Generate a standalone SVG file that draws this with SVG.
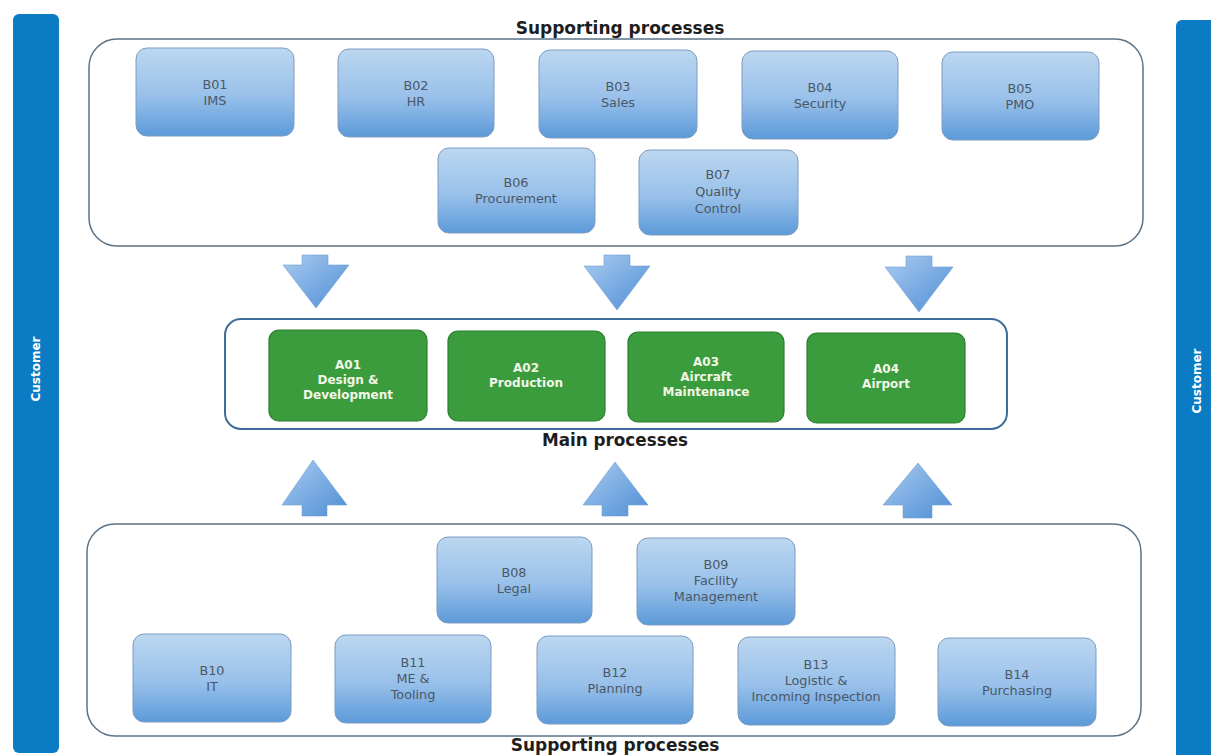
<svg xmlns="http://www.w3.org/2000/svg" width="1211" height="755" viewBox="0 0 1211 755">
<defs>
<linearGradient id="gBox" x1="0" y1="0" x2="0" y2="1">
<stop offset="0" stop-color="#bcd7f0"/>
<stop offset="0.55" stop-color="#98c0ea"/>
<stop offset="1" stop-color="#5c9ad9"/>
</linearGradient>
<linearGradient id="gArrow" x1="0" y1="0" x2="1" y2="1">
<stop offset="0" stop-color="#a9cbef"/>
<stop offset="1" stop-color="#4f8ed6"/>
</linearGradient>
<style>
.cust{fill:#0b7cc4}
.custT{font-family:"DejaVu Sans",Verdana,sans-serif;font-weight:bold;font-size:12px;fill:#ffffff;text-anchor:middle}
.cont{fill:#ffffff;stroke:#5b7388;stroke-width:1.5}
.main{fill:#ffffff;stroke:#3f6d99;stroke-width:2}
.title{font-family:"DejaVu Sans",Verdana,sans-serif;font-weight:bold;fill:#1e1e1e;text-anchor:middle}
.bb{fill:url(#gBox);stroke:#7d9cc0;stroke-width:1}
.bt{font-family:"DejaVu Sans",Verdana,sans-serif;font-size:12.8px;fill:#4a5866;text-anchor:middle}
.gb{fill:#3b9c3e;stroke:#2b7e2e;stroke-width:1.2}
.gt{font-family:"DejaVu Sans",Verdana,sans-serif;font-weight:bold;font-size:12px;fill:#f2f7e6;text-anchor:middle}
.arr{fill:url(#gArrow);stroke:#6f9fd2;stroke-width:0.6}
</style>
</defs>
<rect width="1211" height="755" fill="#ffffff"/>

<g id="customer-left">
<rect class="cust" x="13" y="14" width="46" height="739" rx="6"/>
<text class="custT" transform="translate(40,369) rotate(-90)">Customer</text>
</g>
<g id="customer-right">
<rect class="cust" x="1176" y="20" width="44" height="745" rx="6"/>
<text class="custT" transform="translate(1201,381) rotate(-90)">Customer</text>
</g>

<g id="supporting-top">
<rect class="cont" x="89" y="39" width="1054" height="207" rx="28"/>
<text class="title" x="620" y="34" font-size="17">Supporting processes</text>
</g>

<g id="main-processes">
<rect class="main" x="225" y="319" width="782" height="110" rx="16"/>
<text class="title" x="615" y="446" font-size="16.8">Main processes</text>
</g>

<g id="supporting-bottom">
<rect class="cont" x="87" y="524" width="1054" height="212" rx="28"/>
<text class="title" x="615" y="751" font-size="17">Supporting processes</text>
</g>

<g id="B01"><rect class="bb" x="136" y="48" width="158" height="88" rx="11"/><text class="bt" x="215" y="89">B01<tspan x="215" dy="16">IMS</tspan></text></g>
<g id="B02"><rect class="bb" x="338" y="49" width="156" height="88" rx="11"/><text class="bt" x="416" y="90">B02<tspan x="416" dy="16">HR</tspan></text></g>
<g id="B03"><rect class="bb" x="539" y="50" width="158" height="88" rx="11"/><text class="bt" x="618" y="91">B03<tspan x="618" dy="16">Sales</tspan></text></g>
<g id="B04"><rect class="bb" x="742" y="51" width="156" height="88" rx="11"/><text class="bt" x="820" y="92">B04<tspan x="820" dy="16">Security</tspan></text></g>
<g id="B05"><rect class="bb" x="942" y="52" width="157" height="88" rx="11"/><text class="bt" x="1020" y="93">B05<tspan x="1020" dy="16">PMO</tspan></text></g>
<g id="B06"><rect class="bb" x="438" y="148" width="157" height="85" rx="11"/><text class="bt" x="516" y="187">B06<tspan x="516" dy="16">Procurement</tspan></text></g>
<g id="B07"><rect class="bb" x="639" y="150" width="159" height="85" rx="11"/><text class="bt" x="718" y="179">B07<tspan x="718" dy="17">Quality</tspan><tspan x="718" dy="17">Control</tspan></text></g>

<g id="A01"><rect class="gb" x="269" y="330" width="158" height="91" rx="10"/><text class="gt" x="348" y="369">A01<tspan x="348" dy="15">Design &amp;</tspan><tspan x="348" dy="15">Development</tspan></text></g>
<g id="A02"><rect class="gb" x="448" y="331" width="157" height="90" rx="10"/><text class="gt" x="526" y="372">A02<tspan x="526" dy="15">Production</tspan></text></g>
<g id="A03"><rect class="gb" x="628" y="332" width="156" height="90" rx="10"/><text class="gt" x="706" y="366">A03<tspan x="706" dy="15">Aircraft</tspan><tspan x="706" dy="15">Maintenance</tspan></text></g>
<g id="A04"><rect class="gb" x="807" y="333" width="158" height="90" rx="10"/><text class="gt" x="886" y="373">A04<tspan x="886" dy="15">Airport</tspan></text></g>

<g id="B08"><rect class="bb" x="437" y="537" width="155" height="86" rx="11"/><text class="bt" x="514" y="577">B08<tspan x="514" dy="16">Legal</tspan></text></g>
<g id="B09"><rect class="bb" x="637" y="538" width="158" height="87" rx="11"/><text class="bt" x="716" y="569">B09<tspan x="716" dy="16">Facility</tspan><tspan x="716" dy="16">Management</tspan></text></g>
<g id="B10"><rect class="bb" x="133" y="634" width="158" height="88" rx="11"/><text class="bt" x="212" y="675">B10<tspan x="212" dy="16">IT</tspan></text></g>
<g id="B11"><rect class="bb" x="335" y="635" width="156" height="88" rx="11"/><text class="bt" x="413" y="667">B11<tspan x="413" dy="16">ME &amp;</tspan><tspan x="413" dy="16">Tooling</tspan></text></g>
<g id="B12"><rect class="bb" x="537" y="636" width="156" height="88" rx="11"/><text class="bt" x="615" y="677">B12<tspan x="615" dy="16">Planning</tspan></text></g>
<g id="B13"><rect class="bb" x="738" y="637" width="157" height="88" rx="11"/><text class="bt" x="816" y="669">B13<tspan x="816" dy="16">Logistic &amp;</tspan><tspan x="816" dy="16">Incoming Inspection</tspan></text></g>
<g id="B14"><rect class="bb" x="938" y="638" width="158" height="88" rx="11"/><text class="bt" x="1017" y="679">B14<tspan x="1017" dy="16">Purchasing</tspan></text></g>

<g id="connectors">
<path class="arr" d="M302,255 H328 V265 H349 L316,308 L283,265 H302 Z"/>
<path class="arr" d="M604,255 H630 V266 H650 L617,310 L584,266 H604 Z"/>
<path class="arr" d="M906,256 H932 V267 H953 L919,312 L885,267 H906 Z"/>
<path class="arr" d="M313,460 L347,505 H327 V516 H302 V505 H282 Z"/>
<path class="arr" d="M615,462 L648,505 H628 V516 H602 V505 H583 Z"/>
<path class="arr" d="M918,463 L952,505 H932 V518 H903 V505 H883 Z"/>
</g>
</svg>
